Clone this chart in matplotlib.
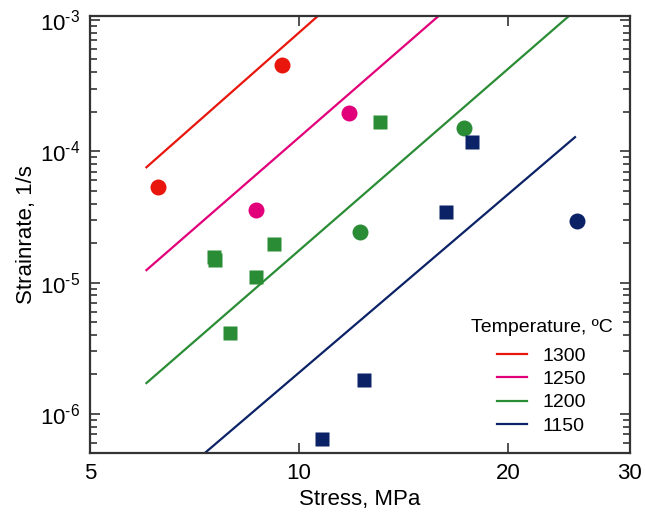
import matplotlib
matplotlib.use('Agg')
import matplotlib.pyplot as plt
from matplotlib.ticker import FixedLocator, NullFormatter, NullLocator

plt.rcParams['font.family'] = ['Liberation Sans', 'DejaVu Sans']
plt.rcParams['mathtext.fontset'] = 'custom'
plt.rcParams['mathtext.rm'] = 'Liberation Sans'
plt.rcParams['mathtext.it'] = 'Liberation Sans'
plt.rcParams['axes.unicode_minus'] = False

temps = ['1300', '1250', '1200', '1150']
colors = ['#e8160c', '#e2007a', '#2a8c35', '#0b2266']

# measured points, circles and squares per temperature
circ_x = {'1300': [6.27, 9.46], '1250': [8.67, 11.8],
          '1200': [12.25, 17.3], '1150': [25.2]}
circ_y = {'1300': [5.3e-5, 4.5e-4], '1250': [3.6e-5, 1.94e-4],
          '1200': [2.42e-5, 1.5e-4], '1150': [2.94e-5]}
sq_x = {'1200': [13.1, 7.54, 7.58, 9.21, 8.67, 7.96],
        '1150': [17.75, 16.3, 12.4, 10.8]}
sq_y = {'1200': [1.66e-4, 1.56e-5, 1.49e-5, 1.96e-5, 1.1e-5, 4.13e-6],
        '1150': [1.17e-4, 3.44e-5, 1.82e-6, 6.45e-7]}

# power-law fits (n ~ 4.55), given by their end points
fit_x = {'1300': [6.03, 10.65], '1250': [6.03, 15.9],
         '1200': [6.03, 24.5], '1150': [7.32, 25.0]}
fit_y = {'1300': [7.55e-5, 1.07e-3], '1250': [1.245e-5, 1.07e-3],
         '1200': [1.72e-6, 1.07e-3], '1150': [5.05e-7, 1.28e-4]}

yticks = [1e-6, 1e-5, 1e-4, 1e-3]
yexps = ['-6', '-5', '-4', '-3']

fig = plt.figure(figsize=(6.45, 5.14), dpi=100)
ax = fig.add_axes([0.1395, 0.1187, 0.8372, 0.8502])

for t, c in zip(temps, colors):
    ax.plot(fit_x[t], fit_y[t], color=c, lw=1.6, label=t, zorder=2)
    if t in circ_x:
        ax.plot(circ_x[t], circ_y[t], 'o', color=c, ms=11.5, mec='none', zorder=3)
    if t in sq_x:
        ax.plot(sq_x[t], sq_y[t], 's', color=c, ms=9.5, mec='none', zorder=3)

ax.set_xscale('log')
ax.set_yscale('log')
ax.set_xlim(5, 30)
ax.set_ylim(5.05e-7, 1.07e-3)

ax.xaxis.set_major_locator(FixedLocator([5, 10, 20, 30]))
ax.xaxis.set_minor_locator(NullLocator())
ax.set_xticklabels(['5', '10', '20', '30'])
ax.xaxis.set_minor_formatter(NullFormatter())
ax.yaxis.set_major_locator(FixedLocator(yticks))
ax.set_yticklabels([r'10$^{\text{%s}}$' % e for e in yexps])

ax.tick_params(which='both', direction='in', top=True, right=True,
               labelsize=16, color='#333333', width=1.2)
ax.tick_params(which='major', length=7, pad=7)
ax.tick_params(which='minor', length=5)
for s in ax.spines.values():
    s.set_linewidth(1.6)
    s.set_color('#333333')

ax.set_xlabel('Stress, MPa', fontsize=16, labelpad=4)
ax.set_ylabel('Strainrate, 1/s', fontsize=16, labelpad=2)

leg = ax.legend(title='Temperature, ºC', loc='lower right', frameon=False,
                fontsize=14, title_fontsize=14, handlelength=1.55,
                handletextpad=0.8, labelspacing=0.29,
                bbox_to_anchor=(1.0, 0.002))
leg._legend_box.sep = 8

fig.savefig('out.png', dpi=100)
